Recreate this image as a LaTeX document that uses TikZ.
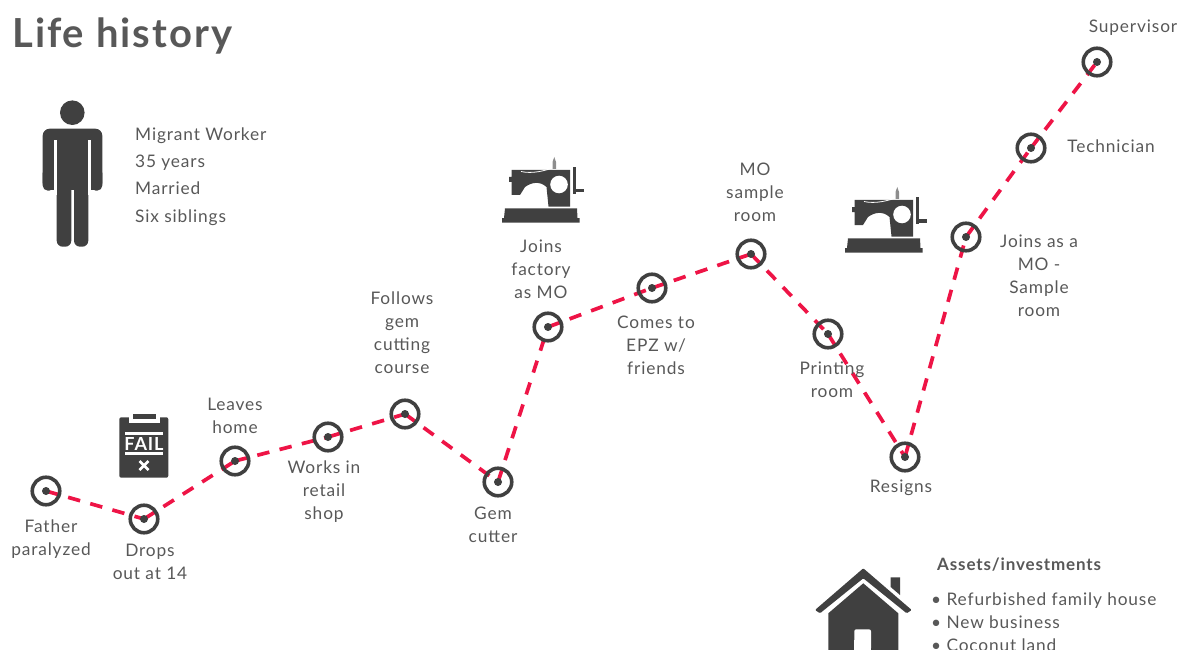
\documentclass[tikz,border=0pt]{standalone}
\usepackage{fontspec}
\setmainfont{Lato}[LetterSpace=5]
\usepackage{xcolor}
\usetikzlibrary{positioning}
\definecolor{lifedark}{RGB}{64,64,64}
\definecolor{lifetext}{RGB}{88,88,88}
\definecolor{lifered}{RGB}{238,20,70}

\tikzset{
  sewing/.pic={
    \fill[lifedark] (15,63.3) -- (87,63.3) -- (87.5,73) -- (89.5,73) -- (89.5,77.5) -- (12,77.5) -- (12,73) -- (14,73) -- cycle;
    \fill[lifedark] (21.5,25) -- (80,25) -- (80,61.5) -- (58.5,61.5) -- (56.5,42) .. controls (50,36) and (42,37) .. (35,42)
      -- (30,50) -- (21.5,50) -- (21.5,37) -- (19,37) -- (19,32) -- (21.5,32) -- cycle;
    \fill[white] (69,39.5) circle (8.8);
    \draw[white, line width=0.8pt] (31,26.5) .. controls (42,29) and (55,26) .. (65,22);
    \fill[lifedark!60] (62.5,24) -- (62.5,17) -- (64.3,12) -- (66,17) -- (66,24) -- cycle;
    \fill[lifedark] (83,22) rectangle (85.5,49);
    \fill[lifedark] (85.5,44) rectangle (93.5,47.5);
  }
}

\begin{document}
\begin{tikzpicture}[x=1pt, y=-1pt,
  every node/.style={font=\fontsize{17.3}{23}\selectfont, text=lifetext, inner sep=0pt},
  stage/.style={circle, draw=lifedark, line width=3.6pt, minimum size=27.5pt},
  dotmark/.style={circle, fill=lifedark, minimum size=7pt},
  label/.style={align=center},
  info/.style={align=left, anchor=west},
  line/.style={lifered, line width=3.7pt, dash pattern=on 12.5pt off 10.5pt},
]
\useasboundingbox (0,0) rectangle (1184,650);

\node[anchor=west, font=\fontsize{40}{45}\selectfont\bfseries] (title) at (12,36) {Life history};

% ── Stages ──
\node[dotmark] (p1) at (46,491) {};
\node[dotmark] (p2) at (144,519) {};
\node[dotmark] (p3) at (235,461) {};
\node[dotmark] (p4) at (328,437) {};
\node[dotmark] (p5) at (405,414) {};
\node[dotmark] (p6) at (498,482) {};
\node[dotmark] (p7) at (548,327) {};
\node[dotmark] (p8) at (652,288) {};
\node[dotmark] (p9) at (751,254) {};
\node[dotmark] (p10) at (828,334) {};
\node[dotmark] (p11) at (905,457) {};
\node[dotmark] (p12) at (966,237) {};
\node[dotmark] (p13) at (1031,148) {};
\node[dotmark] (p14) at (1097,62) {};

\foreach \a/\b in {1/2,2/3,3/4,4/5,5/6,6/7,7/8,8/9,9/10,10/11,11/12,12/13,13/14}
  \draw[line] (p\a.center) -- (p\b.center);

\foreach \n in {1,...,14} \node[stage] at (p\n) {};
\foreach \n in {1,...,14} \fill[lifedark] (p\n) circle (4);

% ── Stage labels ──
\node[label] (l1) at (51,539) {Father\\paralyzed};
\node[label] (l2) at (150,562) {Drops\\out at 14};
\node[label] (l3) at (235,416) {Leaves\\home};
\node[label] (l4) at (324,492) {Works in\\retail\\shop};
\node[label] (l5) at (402,333) {Follows\\gem\\cutting\\course};
\node[label] (l6) at (493,525) {Gem\\cutter};
\node[label] (l7) at (541,269) {Joins\\factory\\as MO};
\node[label] (l8) at (656,345) {Comes to\\EPZ w/\\friends};
\node[label] (l9) at (755,192) {MO\\sample\\room};
\node[label] (l10) at (832,380) {Printing\\room};
\node[label] (l11) at (901,488) {Resigns};
\node[label] (l12) at (1039,276) {Joins as a\\MO -\\Sample\\room};
\node[label] (l13) at (1111,146) {Technician};
\node[label] (l14) at (1133,28) {Supervisor};

% ── Person ──
\fill[lifedark] (72.3,112.7) circle (12.3);
\fill[lifedark, rounded corners=7pt] (42.7,190) -- (42.7,128.7) -- (102.3,128.7) -- (102.3,190) -- cycle;
\fill[lifedark, rounded corners=5pt] (42.7,190.6) rectangle (54.3,168);
\fill[lifedark, rounded corners=5pt] (90.7,190.6) rectangle (102.3,168);
\fill[lifedark] (56.7,128.7) rectangle (88.3,190);
\fill[lifedark, rounded corners=6pt] (56.7,246.7) rectangle (71.3,180);
\fill[lifedark, rounded corners=6pt] (74,246.7) rectangle (88.3,180);
\fill[lifedark] (56.7,180) rectangle (71.3,190);
\fill[lifedark] (74,180) rectangle (88.3,190);
\fill[white] (54.3,140) rectangle (56.7,195);
\fill[white] (88.3,140) rectangle (90.7,195);

\node[info] (who) at (135,177) {Migrant Worker\\[4pt]35 years\\[4pt]Married\\[5pt]Six siblings};

% ── Fail sheet ──
\fill[lifedark, rounded corners=2pt] (119.3,417.3) rectangle (168.3,477.7);
\fill[white] (129,412) rectangle (160,423.3);
\fill[lifedark] (133.3,414) rectangle (156,419.3);
\fill[white] (125,432.3) rectangle (162.7,434.7);
\fill[white] (125,452.3) rectangle (162.7,454.7);
\node[font=\fontsize{18}{18}\selectfont\bfseries, text=white] (fail) at (144,443.5) {FAIL};
\draw[white, line width=2.6pt] (139.5,461) -- (148.5,470) (148.5,461) -- (139.5,470);

% ── Sewing machines ──
\pic at (490,145) {sewing};
\pic at (833,175) {sewing};

% ── House ──
\fill[lifedark] (890.7,577.3) -- (900,577.3) -- (900,595) -- (890.7,587) -- cycle;
\fill[lifedark, rounded corners=1pt] (863.3,568.3) -- (911.7,610) -- (906.7,613.3) -- (863.3,578.3) -- (820,613.3) -- (815,610) -- cycle;
\fill[lifedark] (863.3,583.3) -- (898.3,613.3) -- (898.3,650) -- (828.3,650) -- (828.3,613.3) -- cycle;
\fill[white, rounded corners=2pt] (854.3,650) rectangle (871,629.3);
\fill[white] (854.3,640) rectangle (871,650);

% ── Assets ──
\node[anchor=west, font=\fontsize{17}{20}\selectfont\bfseries] (assets) at (937,565) {Assets/investments};
\node[info, anchor=north west] (items) at (931,593) {• Refurbished family house\\• New business\\• Coconut land};

\end{tikzpicture}
\end{document}
